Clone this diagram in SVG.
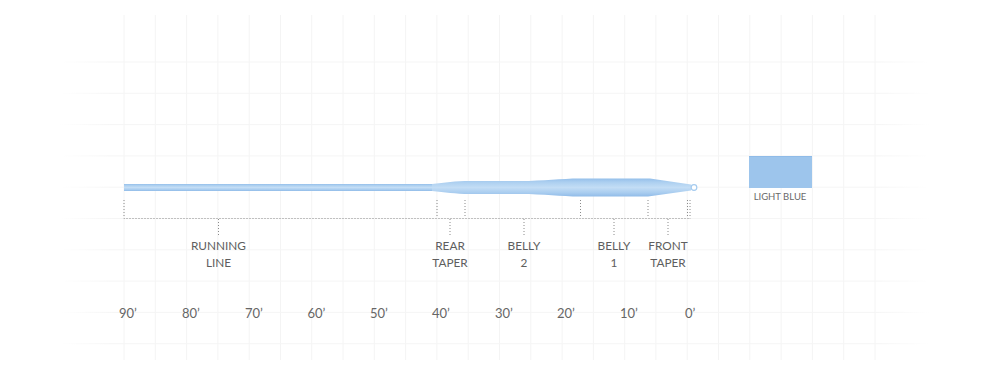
<svg xmlns="http://www.w3.org/2000/svg" width="1000" height="375" viewBox="0 0 1000 375">
<style>
.grid line{stroke-width:1}
.gv{stroke:#f4f4f4}
.gh{stroke:url(#fadeH)}
.dot{stroke:#8a8a8a;stroke-width:1;stroke-dasharray:1 2;fill:none}
.lbl{font-family:Lato,"Open Sans",sans-serif;font-size:11.8px;fill:#5e5e5e;text-anchor:middle}
.scale{font-family:Lato,"Open Sans",sans-serif;font-size:13px;fill:#666}
.leg{font-family:Lato,"Open Sans",sans-serif;font-size:9.5px;fill:#6a6a6a;text-anchor:middle}
</style>
<defs>
<linearGradient id="fadeH" gradientUnits="userSpaceOnUse" x1="60" y1="0" x2="930" y2="0">
<stop offset="0" stop-color="#f5f5f5" stop-opacity="0"/>
<stop offset="0.06" stop-color="#f5f5f5"/>
<stop offset="0.94" stop-color="#f5f5f5"/>
<stop offset="1" stop-color="#f5f5f5" stop-opacity="0"/>
</linearGradient>
<linearGradient id="lineG" x1="0" y1="0" x2="0" y2="1">
<stop offset="0" stop-color="#94bfea"/>
<stop offset="0.2" stop-color="#accff0"/>
<stop offset="0.5" stop-color="#c3ddf5"/>
<stop offset="0.8" stop-color="#a8ccef"/>
<stop offset="1" stop-color="#90bbe8"/>
</linearGradient>
</defs>
<rect width="1000" height="375" fill="#fff"/>
<g id="grid" class="grid">
<line class="gv" x1="124" y1="15" x2="124" y2="360"/>
<line class="gv" x1="155.3" y1="15" x2="155.3" y2="360"/>
<line class="gv" x1="186.6" y1="15" x2="186.6" y2="360"/>
<line class="gv" x1="217.9" y1="15" x2="217.9" y2="360"/>
<line class="gv" x1="249.2" y1="15" x2="249.2" y2="360"/>
<line class="gv" x1="280.5" y1="15" x2="280.5" y2="360"/>
<line class="gv" x1="311.7" y1="15" x2="311.7" y2="360"/>
<line class="gv" x1="343" y1="15" x2="343" y2="360"/>
<line class="gv" x1="374.3" y1="15" x2="374.3" y2="360"/>
<line class="gv" x1="405.6" y1="15" x2="405.6" y2="360"/>
<line class="gv" x1="436.9" y1="15" x2="436.9" y2="360"/>
<line class="gv" x1="468.2" y1="15" x2="468.2" y2="360"/>
<line class="gv" x1="499.5" y1="15" x2="499.5" y2="360"/>
<line class="gv" x1="530.8" y1="15" x2="530.8" y2="360"/>
<line class="gv" x1="562.1" y1="15" x2="562.1" y2="360"/>
<line class="gv" x1="593.4" y1="15" x2="593.4" y2="360"/>
<line class="gv" x1="624.7" y1="15" x2="624.7" y2="360"/>
<line class="gv" x1="655.9" y1="15" x2="655.9" y2="360"/>
<line class="gv" x1="687.2" y1="15" x2="687.2" y2="360"/>
<line class="gv" x1="718.5" y1="15" x2="718.5" y2="360"/>
<line class="gv" x1="749.8" y1="15" x2="749.8" y2="360"/>
<line class="gv" x1="781.1" y1="15" x2="781.1" y2="360"/>
<line class="gv" x1="812.4" y1="15" x2="812.4" y2="360"/>
<line class="gv" x1="843.7" y1="15" x2="843.7" y2="360"/>
<line class="gv" x1="875" y1="15" x2="875" y2="360"/>
<line class="gh" x1="60" y1="62" x2="930" y2="62"/>
<line class="gh" x1="60" y1="93.3" x2="930" y2="93.3"/>
<line class="gh" x1="60" y1="124.6" x2="930" y2="124.6"/>
<line class="gh" x1="60" y1="155.9" x2="930" y2="155.9"/>
<line class="gh" x1="60" y1="187.2" x2="930" y2="187.2"/>
<line class="gh" x1="60" y1="218.5" x2="930" y2="218.5"/>
<line class="gh" x1="60" y1="249.8" x2="930" y2="249.8"/>
<line class="gh" x1="60" y1="281.1" x2="930" y2="281.1"/>
<line class="gh" x1="60" y1="312.4" x2="930" y2="312.4"/>
<line class="gh" x1="60" y1="343.7" x2="930" y2="343.7"/>
</g>
<g id="flyline">
<rect x="124" y="184" width="312" height="7" fill="url(#lineG)"/>
<path d="M432,184 C445,182.5 455,181 470,181 L520,181 C545,181 560,178.5 580,178.5 L650,178.5 L691,184.5 L691,190.5 L648,196.5 L580,196.5 C560,196.5 545,194 520,194 L470,194 C455,194 445,192 432,191 Z" fill="url(#lineG)"/>
<circle cx="694" cy="187.5" r="2.8" fill="#fff" stroke="#a5cbef" stroke-width="1.2"/>
</g>
<g id="connectors">
<path class="dot" d="M124,200 V218.5 H690"/>
<line class="dot" x1="437" y1="200" x2="437" y2="218"/>
<line class="dot" x1="465" y1="200" x2="465" y2="218"/>
<line class="dot" x1="580.5" y1="200" x2="580.5" y2="218"/>
<line class="dot" x1="648" y1="200" x2="648" y2="218"/>
<line class="dot" x1="687.5" y1="200" x2="687.5" y2="218"/>
<line class="dot" x1="690" y1="200" x2="690" y2="218.5"/>
<line class="dot" x1="218.5" y1="219" x2="218.5" y2="237"/>
<line class="dot" x1="450" y1="219" x2="450" y2="237"/>
<line class="dot" x1="524" y1="219" x2="524" y2="237"/>
<line class="dot" x1="614" y1="219" x2="614" y2="237"/>
<line class="dot" x1="668" y1="219" x2="668" y2="237"/>
</g>
<g id="running-line"><text class="lbl" x="218.5" y="250">RUNNING</text><text class="lbl" x="218.5" y="267">LINE</text></g>
<g id="rear-taper"><text class="lbl" x="450" y="250">REAR</text><text class="lbl" x="450" y="267">TAPER</text></g>
<g id="belly-2"><text class="lbl" x="524" y="250">BELLY</text><text class="lbl" x="524" y="267">2</text></g>
<g id="belly-1"><text class="lbl" x="614" y="250">BELLY</text><text class="lbl" x="614" y="267">1</text></g>
<g id="front-taper"><text class="lbl" x="668" y="250">FRONT</text><text class="lbl" x="668" y="267">TAPER</text></g>
<g id="scale">
<text class="scale" x="119" y="318">90’</text>
<text class="scale" x="182" y="318">80’</text>
<text class="scale" x="245" y="318">70’</text>
<text class="scale" x="307.5" y="318">60’</text>
<text class="scale" x="370" y="318">50’</text>
<text class="scale" x="432" y="318">40’</text>
<text class="scale" x="495" y="318">30’</text>
<text class="scale" x="557" y="318">20’</text>
<text class="scale" x="620" y="318">10’</text>
<text class="scale" x="685" y="318">0’</text>
</g>
<g id="legend">
<rect x="749" y="156" width="63" height="32" fill="#9dc5ec"/>
<line x1="749" y1="156.5" x2="812" y2="156.5" stroke="#8fbbe8" stroke-width="1"/>
<text class="leg" x="780" y="200">LIGHT BLUE</text>
</g>
</svg>
